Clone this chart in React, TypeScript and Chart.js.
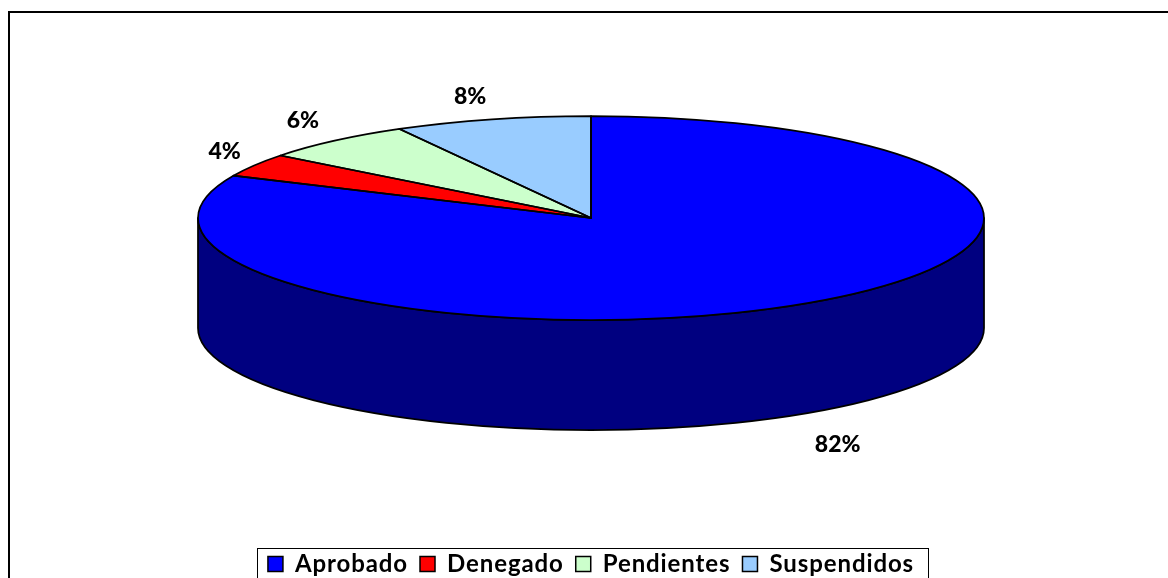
import React, { useEffect, useRef } from "react";
import { Chart, registerables } from "chart.js";

Chart.register(...registerables);

const categories = ["Aprobado", "Denegado", "Pendientes", "Suspendidos"];
const values = [81.8, 3.7, 6.4, 8.1];
const percentLabels = ["82%", "4%", "6%", "8%"];
const topColors = ["#0000FF", "#FF0000", "#CCFFCC", "#99CCFF"];
const sideColors = ["#000080", "#800000", "#669966", "#4D6680"];
const labelShift = [[34, 31], [-30, -14], [-32, -20], [-22, -23]];

const RX = 393;
const RY = 102;
const DEPTH = 110;
const LABEL_FONT = "900 23px Lato, Carlito, sans-serif";

const norm = (a: number) => {
  const t = Math.PI * 2;
  return ((a % t) + t) % t;
};

const pie3d = {
  id: "pie3d",
  beforeLayout(chart: any) {
    chart.ctx.letterSpacing = "0.9px";
  },
  beforeDraw(chart: any) {
    const { ctx } = chart;
    ctx.save();
    ctx.fillStyle = "#fff";
    ctx.fillRect(0, 0, chart.width, chart.height);
    ctx.strokeStyle = "#000";
    ctx.lineWidth = 2;
    ctx.strokeRect(9, 12, 1170, 590);
    ctx.restore();
  },
  beforeDatasetsDraw(chart: any) {
    const { ctx } = chart;
    const arcs = chart.getDatasetMeta(0).data;
    ctx.save();
    ctx.strokeStyle = "#000";
    ctx.lineWidth = 1.75;
    ctx.lineJoin = "round";
    arcs.forEach((arc: any, i: number) => {
      const s = norm(arc.startAngle);
      const span = arc.endAngle - arc.startAngle;
      const segs: [number, number][] = [];
      for (const off of [0, Math.PI * 2]) {
        const a = Math.max(s, off);
        const b = Math.min(s + span, off + Math.PI);
        if (b > a) segs.push([a, b]);
      }
      segs.forEach(([a, b]) => {
        ctx.beginPath();
        ctx.ellipse(arc.x, arc.y, RX, RY, 0, a, b);
        ctx.ellipse(arc.x, arc.y + DEPTH, RX, RY, 0, b, a, true);
        ctx.closePath();
        ctx.fillStyle = sideColors[i];
        ctx.fill();
        ctx.stroke();
      });
    });
    ctx.restore();
    const a0 = arcs[0];
    ctx.save();
    ctx.translate(0, a0.y);
    ctx.scale(1, RY / RX);
    ctx.translate(0, -a0.y);
  },
  afterDatasetsDraw(chart: any) {
    const { ctx } = chart;
    ctx.restore();
    const arcs = chart.getDatasetMeta(0).data;
    ctx.save();
    ctx.strokeStyle = "#000";
    ctx.lineWidth = 1.75;
    ctx.lineJoin = "round";
    arcs.forEach((arc: any) => {
      ctx.beginPath();
      ctx.moveTo(arc.x, arc.y);
      ctx.ellipse(arc.x, arc.y, RX, RY, 0, arc.startAngle, arc.endAngle);
      ctx.closePath();
      ctx.stroke();
    });
    ctx.fillStyle = "#000";
    ctx.font = LABEL_FONT;
    ctx.letterSpacing = "0px";
    ctx.textAlign = "center";
    ctx.textBaseline = "middle";
    arcs.forEach((arc: any, i: number) => {
      const mid = (arc.startAngle + arc.endAngle) / 2;
      const x = arc.x + RX * Math.cos(mid) + labelShift[i][0];
      const sin = Math.sin(mid);
      const y = arc.y + RY * sin + (sin > 0 ? DEPTH : 0) + labelShift[i][1];
      ctx.fillText(percentLabels[i], x, y);
    });
    ctx.restore();
  },
  afterDraw(chart: any) {
    const { ctx, legend } = chart;
    const boxes = legend.legendHitBoxes;
    const left = Math.min(...boxes.map((b: any) => b.left));
    const last = boxes[boxes.length - 1];
    const right = last.left + last.width;
    ctx.save();
    ctx.strokeStyle = "#000";
    ctx.lineWidth = 1;
    ctx.strokeRect(Math.round(left - 11) + 0.5, 548.5, Math.round(right - left + 25), 60);
    ctx.restore();
  },
};

export default function App() {
  const ref = useRef<HTMLCanvasElement>(null);
  useEffect(() => {
    const chart = new Chart(ref.current as HTMLCanvasElement, {
      type: "pie",
      data: {
        labels: categories,
        datasets: [
          {
            data: values,
            backgroundColor: topColors,
            borderWidth: 0,
            radius: RX,
            clip: false,
          } as any,
        ],
      },
      options: {
        responsive: false,
        animation: false,
        events: [],
        layout: { padding: { left: 14, top: 0, bottom: -8 } },
        plugins: {
          tooltip: { enabled: false },
          title: {
            display: true,
            position: "bottom",
            weight: 500,
            text: " ",
            font: { size: 1, lineHeight: 1 },
            padding: { top: 103, bottom: 0 },
          },
          legend: {
            display: true,
            position: "bottom",
            labels: {
              color: "#000",
              font: { family: "Lato, Carlito, sans-serif", size: 24, weight: "bold" },
              boxWidth: 15,
              boxHeight: 15,
              padding: 12,
              generateLabels: (c: any) =>
                Chart.overrides.pie.plugins.legend.labels.generateLabels(c).map((l: any) => ({
                  ...l,
                  strokeStyle: "#000",
                  lineWidth: 1.5,
                })),
            },
          },
        },
      },
      plugins: [pie3d],
    });
    return () => chart.destroy();
  }, []);
  return (
    <canvas
      ref={ref}
      width={1168}
      height={578}
      style={{ position: "absolute", left: 0, top: 0, display: "block" }}
    />
  );
}
